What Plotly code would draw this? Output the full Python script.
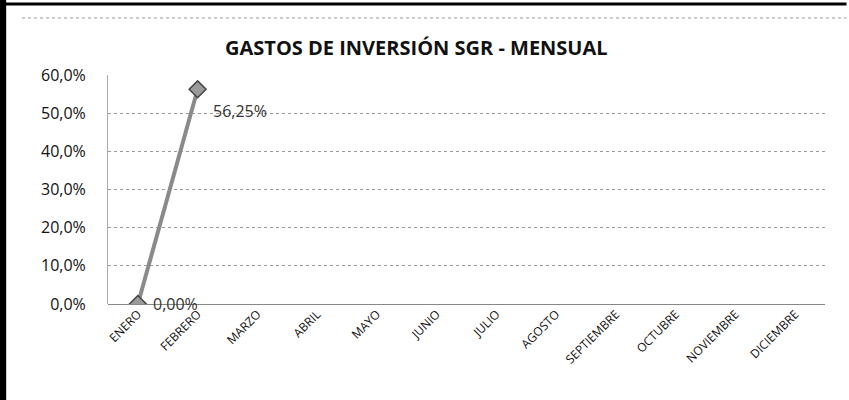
import plotly.graph_objects as go

months = ["ENERO", "FEBRERO", "MARZO", "ABRIL", "MAYO", "JUNIO", "JULIO",
          "AGOSTO", "SEPTIEMBRE", "OCTUBRE", "NOVIEMBRE", "DICIEMBRE"]
values = [0.0, 0.5625, None, None, None, None, None, None, None, None, None, None]
y_ticks = [0.0, 0.1, 0.2, 0.3, 0.4, 0.5, 0.6]
title = "GASTOS DE INVERSIÓN SGR - MENSUAL"

FONT = "Open Sans, Noto Sans, sans-serif"

fig = go.Figure()
fig.add_trace(go.Scatter(
    x=months, y=values, mode="lines+markers",
    line=dict(color="#8a8a8a", width=4),
    marker=dict(symbol="diamond", size=13, color="#9a9a9a",
                line=dict(color="#444444", width=1.5)),
    connectgaps=False, showlegend=False, hoverinfo="skip",
))

shifts = [0, -22]
for m, v, s in zip(months, values, shifts + [0] * (len(months) - len(shifts))):
    if v is None:
        continue
    txt = f"{v*100:.2f}%".replace(".", ",")
    fig.add_annotation(x=m, y=v, xref="x", yref="y", text=txt, showarrow=False,
                       xanchor="left", xshift=13, yshift=s,
                       font=dict(family=FONT, size=16, color="#333333"))

fig.add_annotation(x=0.43, y=1.122, xref="paper", yref="paper", text=f"<b>{title}</b>",
                   showarrow=False, yanchor="middle",
                   font=dict(family=FONT, size=20, color="#111111"))

# scanned-frame borders
fig.add_shape(type="rect", xref="paper", yref="paper", x0=-0.1506, x1=-0.142, y0=-0.42, y1=1.33,
              fillcolor="black", line=dict(width=0), layer="above")
fig.add_shape(type="line", xref="paper", yref="paper", x0=-0.145, x1=1.03, y0=1.31, y1=1.31,
              line=dict(color="black", width=3))
fig.add_shape(type="line", xref="paper", yref="paper", x0=-0.12, x1=1.03, y0=1.249, y1=1.249,
              line=dict(color="#999999", width=1, dash="dot"))

fig.update_layout(
    width=849, height=400,
    margin=dict(l=108, r=24, t=75, b=96, autoexpand=False),
    paper_bgcolor="white", plot_bgcolor="white",
    separators=",.",
    font=dict(family=FONT, color="#222222"),
    xaxis=dict(
        type="category", categoryorder="array", categoryarray=months,
        range=[-0.5, len(months) - 0.5], automargin=False,
        tickangle=-45, tickfont=dict(family=FONT, size=12, color="#111111"),
        showgrid=False, showline=False, ticks="", zeroline=False,
    ),
    yaxis=dict(
        range=[0, 0.6], tickvals=y_ticks, tickformat=".1%", automargin=False,
        tickfont=dict(family=FONT, size=16, color="#111111"),
        showgrid=True, gridcolor="#9a9a9a", griddash="dot", gridwidth=1,
        showline=True, linecolor="#aaaaaa", linewidth=1,
        zeroline=True, zerolinecolor="#888888", zerolinewidth=1,
        ticks="", ticklabelstandoff=18,
    ),
)
fig.write_html("out.html", config={"displayModeBar": False},
               post_script="document.body.style.margin='0';")
